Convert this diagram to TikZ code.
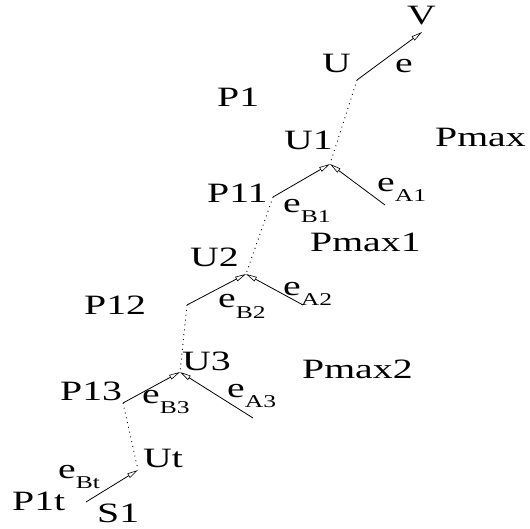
\documentclass[tikz,border=0pt]{standalone}
\usepackage{fontspec}
\setmainfont{Liberation Serif}
\usetikzlibrary{arrows.meta}
\newcommand{\lsub}[1]{\raisebox{-10pt}{\fontsize{18}{18}\selectfont #1}}
\newcommand{\wide}[1]{\scalebox{1.42}[1]{#1}}
\tikzset{
  lbl/.style={anchor=base west, inner sep=0pt, font=\fontsize{28}{28}\selectfont},
  edgearrow/.style={line width=0.8pt, -{Triangle[open, length=11pt, width=5pt, line width=0.6pt]}},
  dotline/.style={line width=0.9pt, dash pattern=on 0.9pt off 4pt}
}
\begin{document}
\begin{tikzpicture}[x=1pt, y=-1pt]
\useasboundingbox (0,0) rectangle (530,529);
% junction points
\coordinate (jU) at (357,80);
\coordinate (tV) at (422,32);
\coordinate (jU1) at (330,164);
\coordinate (sB1) at (273,197);
\coordinate (sA1) at (385,205);
\coordinate (jU2) at (246,274);
\coordinate (sB2) at (187,305);
\coordinate (sA2) at (303,305);
\coordinate (jU3) at (180,372);
\coordinate (sB3) at (123,403);
\coordinate (sA3) at (253,418);
\coordinate (jUt) at (138,470);
\coordinate (sBt) at (86,502);
% connectors
\draw[edgearrow] (jU) -- (tV);
\draw[dotline] (jU) -- (jU1);
\draw[edgearrow] (sB1) -- (jU1);
\draw[edgearrow] (sA1) -- (jU1);
\draw[dotline] (sB1) -- (jU2);
\draw[edgearrow] (sB2) -- (jU2);
\draw[edgearrow] (sA2) -- (jU2);
\draw[dotline] (sB2) -- (jU3);
\draw[edgearrow] (sB3) -- (jU3);
\draw[edgearrow] (sA3) -- (jU3);
\draw[dotline] (sB3) -- (jUt);
\draw[edgearrow] (sBt) -- (jUt);
% labels
\node[lbl] (V) at (407,25) {\wide{V}};
\node[lbl] (U) at (322,73) {\wide{U}};
\node[lbl] (e) at (395,73) {\wide{e}};
\node[lbl] (P1) at (217,107) {\wide{P1}};
\node[lbl] (U1) at (284,150) {\wide{U1}};
\node[lbl] (Pmax) at (435,147) {\wide{Pmax}};
\node[lbl] (eA1) at (377,192) {\wide{e\lsub{A1}}};
\node[lbl] (P11) at (207,203) {\wide{P11}};
\node[lbl] (eB1) at (283,213) {\wide{e\lsub{B1}}};
\node[lbl] (Pmax1) at (310,252) {\wide{Pmax1}};
\node[lbl] (U2) at (190,267) {\wide{U2}};
\node[lbl] (eA2) at (283,295) {\wide{e\lsub{A2}}};
\node[lbl] (eB2) at (218,308) {\wide{e\lsub{B2}}};
\node[lbl] (P12) at (84,315) {\wide{P12}};
\node[lbl] (U3) at (182,370) {\wide{U3}};
\node[lbl] (Pmax2) at (302,378) {\wide{Pmax2}};
\node[lbl] (P13) at (60,400) {\wide{P13}};
\node[lbl] (eB3) at (142,403) {\wide{e\lsub{B3}}};
\node[lbl] (eA3) at (227,397) {\wide{e\lsub{A3}}};
\node[lbl] (Ut) at (143,467) {\wide{Ut}};
\node[lbl] (eBt) at (58,478) {\wide{e\lsub{Bt}}};
\node[lbl] (P1t) at (12,510) {\wide{P1t}};
\node[lbl] (S1) at (97,522) {\wide{S1}};
\end{tikzpicture}
\end{document}
